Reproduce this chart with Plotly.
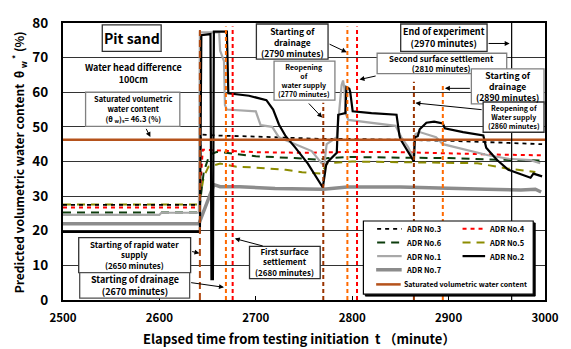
import plotly.graph_objects as go

# ---------------- data ----------------
t_adr3 = [2500, 2641, 2643, 2660, 2700, 2740, 2770, 2800, 2850, 2900, 2950, 2997]
v_adr3 = [27.5, 27.5, 47.8, 47.5, 47.2, 46.8, 46.5, 46.5, 46.3, 46.0, 45.5, 45.0]

t_adr4 = [2500, 2641, 2645, 2660, 2700, 2750, 2800, 2850, 2900, 2950, 2997]
v_adr4 = [26.7, 26.7, 43.4, 43.2, 42.7, 42.5, 42.8, 42.7, 42.3, 42.0, 41.8]

t_adr6 = [2500, 2641, 2646, 2652, 2660, 2700, 2740, 2765, 2775, 2800, 2850, 2900, 2950, 2997]
v_adr6 = [25.3, 25.3, 37.0, 42.0, 42.8, 41.5, 41.0, 40.5, 41.0, 41.3, 41.1, 41.0, 40.5, 40.3]

t_adr5 = [2500, 2641, 2646, 2651, 2663, 2680, 2697, 2714, 2731, 2748, 2768, 2774, 2800, 2850, 2900, 2930, 2960, 2990]
v_adr5 = [27.6, 27.6, 35.6, 38.5, 39.4, 38.5, 38.3, 38.0, 37.6, 36.9, 36.5, 39.5, 40.0, 39.8, 39.7, 39.5, 38.0, 37.0]

t_adr1 = [2500, 2600, 2602, 2641, 2642, 2662, 2663, 2667, 2668, 2670, 2700, 2705, 2717, 2724, 2741, 2758,
          2768, 2771, 2773.5, 2784, 2789, 2790.5, 2792, 2793, 2796, 2833, 2845, 2851, 2858, 2863.5, 2865.5,
          2870, 2880, 2887, 2894, 2921, 2941, 2962, 2985, 2995]
v_adr1 = [24.6, 24.6, 25.2, 25.2, 77.3, 77.3, 72.0, 69.0, 56.3, 55.0, 54.5, 50.5, 50.0, 47.0, 45.0, 43.0,
          39.6, 39.0, 45.0, 47.0, 62.0, 63.4, 61.0, 54.0, 52.0, 50.7, 50.3, 47.0, 44.2, 40.8, 47.9,
          48.5, 47.5, 47.0, 45.0, 43.2, 41.8, 40.8, 40.4, 39.5]

t_adr2 = [2500, 2642, 2643.5, 2653, 2654, 2655.5, 2656.5, 2670, 2671.5, 2693, 2711, 2718, 2724, 2731, 2741,
          2754, 2769.5, 2773, 2775, 2784, 2785.5, 2793, 2794, 2797, 2798, 2800.5, 2820, 2846, 2849, 2850,
          2864, 2865, 2868, 2870, 2877, 2885, 2894, 2896, 2915, 2936, 2939, 2950, 2962, 2975, 2985, 2988, 2997]
v_adr2 = [19.7, 19.7, 76.5, 76.8, 6.0, 6.0, 77.5, 77.5, 59.7, 59.0, 57.7, 55.0, 50.7, 47.3, 44.0,
          39.4, 32.5, 39.0, 40.0, 42.5, 53.5, 54.0, 61.5, 61.0, 60.0, 54.5, 54.0, 53.5, 47.5, 46.5,
          40.0, 47.0, 47.3, 49.3, 51.2, 51.5, 51.0, 49.6, 48.5, 47.5, 44.0, 40.5, 37.6, 36.2, 35.3, 36.5, 35.7]

t_adr7 = [2500, 2641, 2656.5, 2663, 2683, 2720, 2770, 2795, 2850, 2900, 2940, 2975, 2990, 2996]
v_adr7 = [22.0, 22.0, 33.3, 32.7, 32.7, 32.2, 32.0, 32.6, 32.6, 32.4, 32.0, 31.8, 32.0, 31.2]

t_sat = [2500, 3000]
v_sat = [46.3, 46.3]

# event lines (minutes)
event_t = [2642, 2669, 2676, 2770, 2795, 2805, 2864, 2894]
event_top = [78, 79, 79, 57, 79, 79, 63, 62.5]
event_col = ["#B04A12", "#FF6A00", "#FF0000", "#993300", "#FF6A00", "#FF0000", "#993300", "#FF6A00"]
event_dash = ["7px,4px", "4px,3px", "4px,3px", "4px,3px", "4px,3px", "4px,3px", "4px,3px", "4px,3px"]
end_t = 2965.4

x_ticks = [2500, 2600, 2700, 2800, 2900, 3000]
y_ticks = [0, 10, 20, 30, 40, 50, 60, 70, 80]

FONT = "Noto Sans CJK JP"
W, H = 571, 349
L, R, T, B = 63, 17, 16, 49
PW, PH = W - L - R, H - T - B


def dx(px):
    return 2500 + (px - L) * 500 / PW


def dy(py):
    return (T + PH - py) * 80 / PH


fig = go.Figure()

styles = [
    ("ADR No.7", t_adr7, v_adr7, dict(color="#8C8C8C", width=3.5)),
    ("ADR No.5", t_adr5, v_adr5, dict(color="#8C8C00", width=2, dash="8px,6px")),
    ("ADR No.6", t_adr6, v_adr6, dict(color="#0D3D0D", width=2, dash="8px,6px")),
    ("ADR No.4", t_adr4, v_adr4, dict(color="#FF0000", width=2, dash="4px,4px")),
    ("ADR No.3", t_adr3, v_adr3, dict(color="#000000", width=1.8, dash="4px,4px")),
    ("ADR No.1", t_adr1, v_adr1, dict(color="#A8A8A8", width=2.2)),
    ("ADR No.2", t_adr2, v_adr2, dict(color="#000000", width=2.2)),
    ("Saturated volumetric water content", t_sat, v_sat, dict(color="#B5521B", width=2.5)),
]
for name, tt, vv, ln in styles:
    fig.add_trace(go.Scatter(x=tt, y=vv, mode="lines", name=name, line=ln, showlegend=False))

shapes = []
for t, top, c, d in zip(event_t, event_top, event_col, event_dash):
    shapes.append(dict(type="line", xref="x", yref="y", x0=t, x1=t, y0=0, y1=top,
                       line=dict(color=c, width=2, dash=d), layer="above"))
shapes.append(dict(type="line", xref="x", yref="y", x0=end_t, x1=end_t, y0=0, y1=80,
                   line=dict(color="#000000", width=1.2), layer="above"))

annotations = []

# boxes: (x0, y0, x1, y1 in px), text, font size, border color
boxes = [
    ((103, 18, 163, 45), "Pit sand", 14, "#303030"),
    ((86, 87, 182, 122), "Saturated volumetric<br>water content<br>(θ <sub>w</sub>)<sub>s</sub>= 46.3 (%)", 7.5, "#808080"),
    ((260, 17, 333, 53), "Starting of<br>drainage<br>(2790 minutes)", 8.5, "#303030"),
    ((278, 55, 340, 95), "Reopening<br>of<br>water supply<br>(2770 minutes)", 7, "#808080"),
    ((407, 17, 495, 45), "End of experiment<br>(2970 minutes)", 9, "#303030"),
    ((383, 47, 515, 68), "Second surface settlement<br>(2810 minutes)", 8, "#808080"),
    ((479, 63, 553, 99), "Starting of<br>drainage<br>(2890 minutes)", 8.6, "#808080"),
    ((491, 97, 553, 128), "Reopening of<br>Water supply<br>(2860 minutes)", 7, "#303030"),
    ((79, 236, 193, 272), "Starting of rapid water<br>supply<br>(2650 minutes)", 8, "#303030"),
    ((80, 272, 192, 298), "Starting of drainage<br>(2670 minutes)", 9, "#505050"),
    ((253, 245, 325, 278), "First surface<br>settlement<br>(2680 minutes)", 8, "#303030"),
]
for (x0, y0, x1, y1), txt, fs, bc in boxes:
    shapes.append(dict(type="rect", xref="x", yref="y", x0=dx(x0), x1=dx(x1), y0=dy(y1), y1=dy(y0),
                       line=dict(color=bc, width=1.3), fillcolor="white", layer="above"))
    annotations.append(dict(x=dx((x0 + x1) / 2), y=dy((y0 + y1) / 2), xref="x", yref="y",
                            xanchor="center", yanchor="middle",
                            text=txt, showarrow=False, font=dict(family=FONT, size=fs, color="black", weight="bold"),
                            align="center"))

# free text
annotations.append(dict(x=dx(135), y=dy(68), xref="x", yref="y", text="Water head difference<br>100cm",
                        xanchor="center", yanchor="middle",
                        showarrow=False, font=dict(family=FONT, size=9, color="black", weight="bold")))

# arrows: tail px -> head px
arrows = [
    ((147, 123), (152, 133)),
    ((333, 37), (352, 46)),
    ((312, 97), (327, 113)),
    ((495, 37), (518, 37)),
    ((383, 70), (365, 74)),
    ((479, 83), (452, 83)),
    ((491, 105), (422, 98)),
    ((193, 250), (202, 252)),
    ((192, 282), (227, 287)),
    ((268, 245), (238, 237)),
]
for (tx, ty), (hx, hy) in arrows:
    annotations.append(dict(x=dx(hx), y=dy(hy), ax=dx(tx), ay=dy(ty), xref="x", yref="y",
                            axref="x", ayref="y", text="", showarrow=True, arrowhead=2,
                            arrowsize=1, arrowwidth=1, arrowcolor="black"))

# manual legend
lx0, ly0, lx1, ly1 = 369, 219, 542, 294
shapes.append(dict(type="rect", xref="x", yref="y", x0=dx(lx0 + 2), x1=dx(lx1 + 2), y0=dy(ly1 + 2), y1=dy(ly0 + 2),
                   line=dict(color="black", width=1), fillcolor="black", layer="above"))
shapes.append(dict(type="rect", xref="x", yref="y", x0=dx(lx0), x1=dx(lx1), y0=dy(ly1), y1=dy(ly0),
                   line=dict(color="black", width=1.2), fillcolor="white", layer="above"))
style_of = {name: ln for name, _, _, ln in styles}
legend_items = [
    ("ADR No.3", 383, 408, 410, 227, 7.5),
    ("ADR No.4", 470, 493, 495, 227, 7.5),
    ("ADR No.6", 383, 408, 410, 241, 7.5),
    ("ADR No.5", 470, 493, 495, 241, 7.5),
    ("ADR No.1", 383, 408, 410, 255, 7.5),
    ("ADR No.2", 470, 493, 495, 255, 7.5),
    ("ADR No.7", 382, 408, 410, 269, 7.5),
    ("Saturated volumetric water content", 382, 407, 408, 284, 7),
]
for name, a, b, tx, yy, fs in legend_items:
    ln = dict(style_of[name])
    shapes.append(dict(type="line", xref="x", yref="y", x0=dx(a), x1=dx(b), y0=dy(yy), y1=dy(yy),
                       line=ln, layer="above"))
    annotations.append(dict(x=dx(tx), y=dy(yy), xref="x", yref="y", text=name, showarrow=False,
                            xanchor="left", yanchor="middle",
                            font=dict(family=FONT, size=fs, color="black", weight="bold")))

# axis titles
annotations.append(dict(x=(303 - L) / PW, y=(T + PH - 339) / PH, xref="paper", yref="paper",
                        xanchor="center", yanchor="middle",
                        text="Elapsed time from testing initiation  t （minute）", showarrow=False,
                        font=dict(family=FONT, size=13, color="black", weight="bold")))
annotations.append(dict(x=(19 - L) / PW, y=(T + PH - 159) / PH, xref="paper", yref="paper",
                        xanchor="center", yanchor="middle",
                        text="Predicted volumetric water content  θ <sub>w</sub><sup> *</sup> (%)",
                        showarrow=False, textangle=-90,
                        font=dict(family=FONT, size=12, color="black", weight="bold")))

fig.update_layout(
    width=W, height=H,
    margin=dict(l=L, r=R, t=T, b=B, pad=0),
    paper_bgcolor="white", plot_bgcolor="white",
    shapes=shapes, annotations=annotations,
    showlegend=False,
    font=dict(family=FONT, color="black"),
)
fig.update_xaxes(range=[2500, 3000], tickvals=x_ticks, showgrid=False, zeroline=False,
                 showline=True, linecolor="black", linewidth=2, mirror=True,
                 ticks="inside", ticklen=4, tickcolor="black",
                 tickfont=dict(family=FONT, size=11.5, color="black", weight="bold"),
                 ticklabelstandoff=6)
fig.update_yaxes(range=[0, 80], tickvals=y_ticks, showgrid=True, gridcolor="#333333", gridwidth=1,
                 zeroline=False, showline=True, linecolor="black", linewidth=2, mirror=True,
                 ticks="", tickfont=dict(family=FONT, size=13.5, color="black", weight="bold"),
                 ticklabelstandoff=10)

fig.write_html("out.html")
